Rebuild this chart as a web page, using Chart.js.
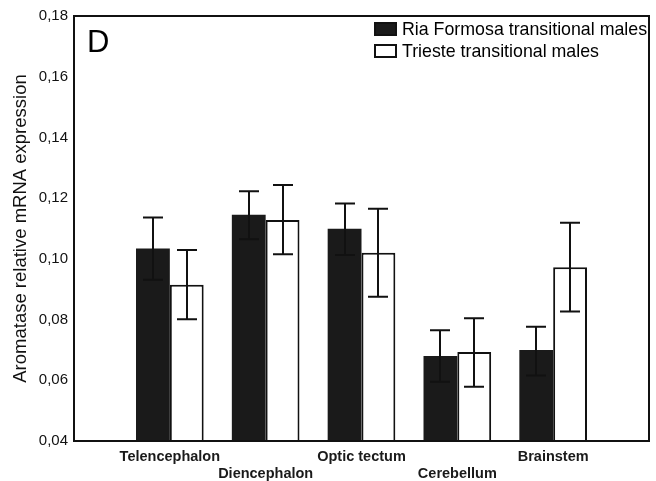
<!DOCTYPE html>
<html>
<head>
<meta charset="utf-8">
<script src="https://cdn.jsdelivr.net/npm/chart.js@4"></script>
<style>
html,body{margin:0;padding:0;background:#fff;}
#wrap{width:656px;height:481px;}
</style>
</head>
<body>
<div id="wrap"><canvas id="c" width="656" height="481"></canvas></div>
<script>
const categories = ['Telencephalon', 'Diencephalon', 'Optic tectum', 'Cerebellum', 'Brainstem'];
const riaValues = [0.1034, 0.1145, 0.1099, 0.0680, 0.0700];
const riaErrLow = [0.0931, 0.1065, 0.1013, 0.0595, 0.0616];
const riaErrHigh = [0.1136, 0.1223, 0.1182, 0.0765, 0.0776];
const triValues = [0.0915, 0.1128, 0.1020, 0.0693, 0.0972];
const triErrLow = [0.0801, 0.1015, 0.0875, 0.0579, 0.0827];
const triErrHigh = [0.1029, 0.1243, 0.1165, 0.0804, 0.1119];
const yTicks = [0.04, 0.06, 0.08, 0.10, 0.12, 0.14, 0.16, 0.18];
const seriesNames = ['Ria Formosa transitional males', 'Trieste transitional males'];
const panelLetter = 'D';
const yTitle = 'Aromatase relative mRNA expression';

// category slots: empty slot at each end so categories sit on ticks 1..5
const pad = a => [null, ...a, null];
const labels = ['', ...categories.map((c, i) => i % 2 === 0 ? [c] : ['', c]), ''];

const FONT = 'Arial, "Liberation Sans", Helvetica, sans-serif';

const extras = {
  id: 'extras',
  afterDatasetsDraw(chart) {
    const ctx = chart.ctx;
    const y = chart.scales.y;
    const errs = [[riaErrLow, riaErrHigh], [triErrLow, triErrHigh]];
    ctx.save();
    ctx.strokeStyle = '#111';
    ctx.lineWidth = 2;
    errs.forEach((e, di) => {
      const meta = chart.getDatasetMeta(di);
      e[0].forEach((lo, i) => {
        const bar = meta.data[i + 1];
        if (!bar) return;
        const x = Math.round(bar.x);
        const yl = y.getPixelForValue(lo), yh = y.getPixelForValue(e[1][i]);
        ctx.beginPath();
        ctx.moveTo(x, yl); ctx.lineTo(x, yh);
        ctx.moveTo(x - 10, yl); ctx.lineTo(x + 10, yl);
        ctx.moveTo(x - 10, yh); ctx.lineTo(x + 10, yh);
        ctx.stroke();
      });
    });
    const a = chart.chartArea;
    ctx.lineWidth = 2;
    ctx.strokeStyle = '#111';
    ctx.strokeRect(a.left, a.top, a.right - a.left, a.bottom - a.top);
    // panel letter
    ctx.fillStyle = '#000';
    ctx.font = '31px ' + FONT;
    ctx.textBaseline = 'alphabetic';
    ctx.textAlign = 'left';
    ctx.fillText(panelLetter, a.left + 13, 52);
    // legend
    ctx.font = '17.8px ' + FONT;
    ctx.textBaseline = 'middle';
    const rows = [29, 51];
    chart.data.datasets.forEach((ds, i) => {
      const yy = rows[i];
      ctx.fillStyle = ds.backgroundColor;
      ctx.fillRect(375, yy - 6, 21, 12);
      ctx.lineWidth = 2;
      ctx.strokeStyle = '#111';
      ctx.strokeRect(375, yy - 6, 21, 12);
      ctx.fillStyle = '#000';
      ctx.fillText(ds.label, 402, yy + 1);
    });
    ctx.restore();
  }
};

new Chart(document.getElementById('c'), {
  type: 'bar',
  data: {
    labels: labels,
    datasets: [
      { label: seriesNames[0], data: pad(riaValues), backgroundColor: '#1a1a1a', borderColor: '#1a1a1a', borderWidth: 0 },
      { label: seriesNames[1], data: pad(triValues), backgroundColor: '#ffffff', borderColor: '#111', borderWidth: 2, borderSkipped: 'bottom' }
    ]
  },
  options: {
    responsive: false,
    animation: false,
    devicePixelRatio: 1,
    layout: { padding: { left: 10, right: 4, top: 16, bottom: 0 } },
    plugins: { legend: { display: false }, tooltip: { enabled: false } },
    datasets: { bar: { categoryPercentage: 0.706, barPercentage: 1.0 } },
    scales: {
      x: {
        type: 'category',
        offset: false,
        grid: { display: false, drawTicks: false },
        border: { display: false },
        ticks: { autoSkip: false, maxRotation: 0, minRotation: 0, padding: 7, color: '#1a1a1a', font: { family: FONT, size: 14.5, weight: 'bold' } },
        afterFit: s => { s.height = 40; }
      },
      y: {
        min: 0.04, max: 0.18,
        afterBuildTicks: s => { s.ticks = yTicks.map(v => ({ value: v })); },
        grid: { display: false, drawTicks: false },
        border: { display: false },
        ticks: {
          padding: 6, color: '#111', font: { family: FONT, size: 15 },
          callback: v => Number(v).toFixed(2).replace('.', ',')
        },
        title: { display: true, text: yTitle, color: '#111', padding: { top: 0, bottom: 0 }, font: { family: FONT, size: 18.5 } },
        afterFit: s => { s.width = 64; }
      }
    }
  },
  plugins: [extras]
});
</script>
</body>
</html>
